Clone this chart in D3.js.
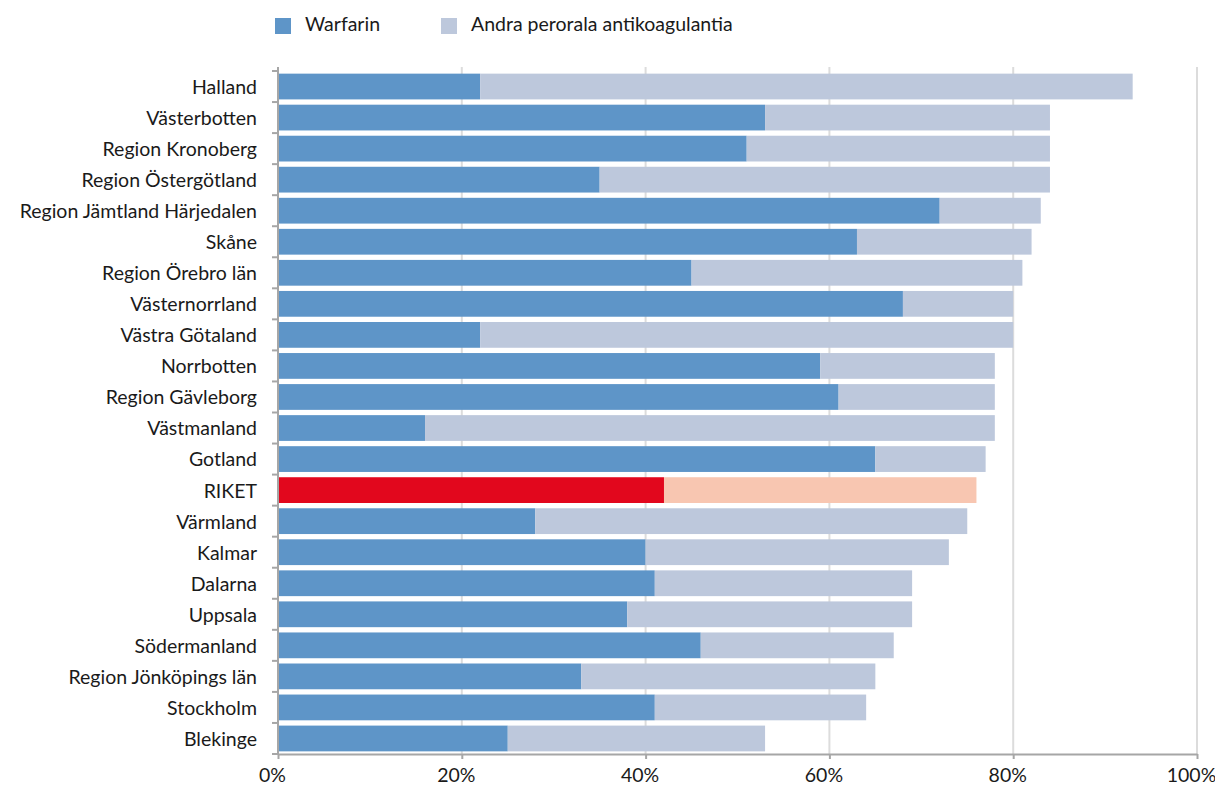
<!DOCTYPE html>
<html>
<head>
<meta charset="utf-8">
<script src="https://cdn.jsdelivr.net/npm/d3@7"></script>
<style>
  body { margin: 0; background: #fff; }
  text { font-family: Lato, "Open Sans", sans-serif; fill: #1a1a1a; }
</style>
</head>
<body>
<div class="chart-container"></div>
<script>
//! DATA
const regions = ['Halland', 'Västerbotten', 'Region Kronoberg', 'Region Östergötland',
  'Region Jämtland Härjedalen', 'Skåne', 'Region Örebro län', 'Västernorrland',
  'Västra Götaland', 'Norrbotten', 'Region Gävleborg', 'Västmanland', 'Gotland',
  'RIKET', 'Värmland', 'Kalmar', 'Dalarna', 'Uppsala', 'Södermanland',
  'Region Jönköpings län', 'Stockholm', 'Blekinge'];
const warfarin = [22, 53, 51, 35, 72, 63, 45, 68, 22, 59, 61, 16, 65, 42, 28, 40, 41, 38, 46, 33, 41, 25];
const andra = [71, 31, 33, 49, 11, 19, 36, 12, 58, 19, 17, 62, 12, 34, 47, 33, 28, 31, 21, 32, 23, 28];
const seriesNames = ['Warfarin', 'Andra perorala antikoagulantia'];
const xTicks = [0, 20, 40, 60, 80, 100];

//! CONSTS
const width = 1215;
const height = 785;
const margin = { top: 71, right: 18, bottom: 31, left: 278 };
const fontSize = 19.5;
const colors = ['#5e95c8', '#bdc8dc'];
const highlight = ['#e2071d', '#f8c6b1'];

const svg = d3.select('.chart-container')
  .append('svg')
  .attr('width', width)
  .attr('height', height);

//! SCALES
const xScale = d3.scaleLinear()
  .domain([0, 100])
  .range([margin.left, width - margin.right]);

const yScale = d3.scaleBand()
  .domain(regions)
  .range([margin.top, height - margin.bottom])
  .paddingInner(0.17)
  .paddingOuter(0.085);

// gridlines
svg.append('g')
  .selectAll('line')
  .data(xTicks.slice(1))
  .enter()
  .append('line')
  .attr('x1', d => xScale(d))
  .attr('x2', d => xScale(d))
  .attr('y1', margin.top - 4)
  .attr('y2', height - margin.bottom)
  .attr('stroke', '#dcdcdc')
  .attr('stroke-width', 2);

//! BARS
const rows = regions.map((r, i) => ({ region: r, vals: [warfarin[i], andra[i]] }));

const stack = d3.stack().keys([0, 1]).value((d, k) => d.vals[k]);
const layers = stack(rows);

layers.forEach((layer, k) => {
  svg.append('g')
    .selectAll('rect')
    .data(layer)
    .enter()
    .append('rect')
    .attr('x', d => xScale(d[0]))
    .attr('y', d => yScale(d.data.region))
    .attr('width', d => xScale(d[1]) - xScale(d[0]))
    .attr('height', yScale.bandwidth())
    .attr('fill', d => d.data.region === 'RIKET' ? highlight[k] : colors[k]);
});

//! AXES
const xAxis = d3.axisBottom(xScale)
  .tickValues(xTicks)
  .tickFormat(d => d + '%')
  .tickSize(5)
  .tickSizeOuter(0);

const gx = svg.append('g')
  .attr('transform', `translate(0,${height - margin.bottom})`)
  .call(xAxis);
gx.select('.domain').attr('stroke', '#a6a6a6').attr('stroke-width', 2);
gx.selectAll('.tick line').attr('stroke', '#a6a6a6').attr('stroke-width', 2);
gx.selectAll('.tick text')
  .attr('font-size', fontSize)
  .attr('dy', '1.05em')
  .attr('x', -6)
  .style('font-family', 'Lato, sans-serif')
  .attr('fill', '#1a1a1a');

// y axis: ticks at category boundaries
const gy = svg.append('g');
gy.append('line')
  .attr('x1', margin.left).attr('x2', margin.left)
  .attr('y1', margin.top - 4).attr('y2', height - margin.bottom)
  .attr('stroke', '#a6a6a6').attr('stroke-width', 2);

const bounds = d3.range(regions.length + 1).map(i => margin.top + i * (height - margin.top - margin.bottom) / regions.length);
gy.selectAll('.ytick')
  .data(bounds)
  .enter()
  .append('line')
  .attr('x1', margin.left - 6).attr('x2', margin.left)
  .attr('y1', d => d).attr('y2', d => d)
  .attr('stroke', '#a6a6a6').attr('stroke-width', 2);

gy.selectAll('.ylabel')
  .data(regions)
  .enter()
  .append('text')
  .attr('x', margin.left - 21)
  .attr('y', d => yScale(d) + yScale.bandwidth() / 2)
  .attr('dy', '0.38em')
  .attr('text-anchor', 'end')
  .attr('font-size', fontSize)
  .text(d => d);

//! LEGEND
const legendX = [275, 441];
const legend = svg.append('g');
seriesNames.forEach((name, i) => {
  legend.append('rect')
    .attr('x', legendX[i]).attr('y', 18)
    .attr('width', 16).attr('height', 16)
    .attr('fill', colors[i]);
  legend.append('text')
    .attr('x', legendX[i] + 30).attr('y', 31)
    .attr('font-size', fontSize)
    .text(name);
});
</script>
</body>
</html>
